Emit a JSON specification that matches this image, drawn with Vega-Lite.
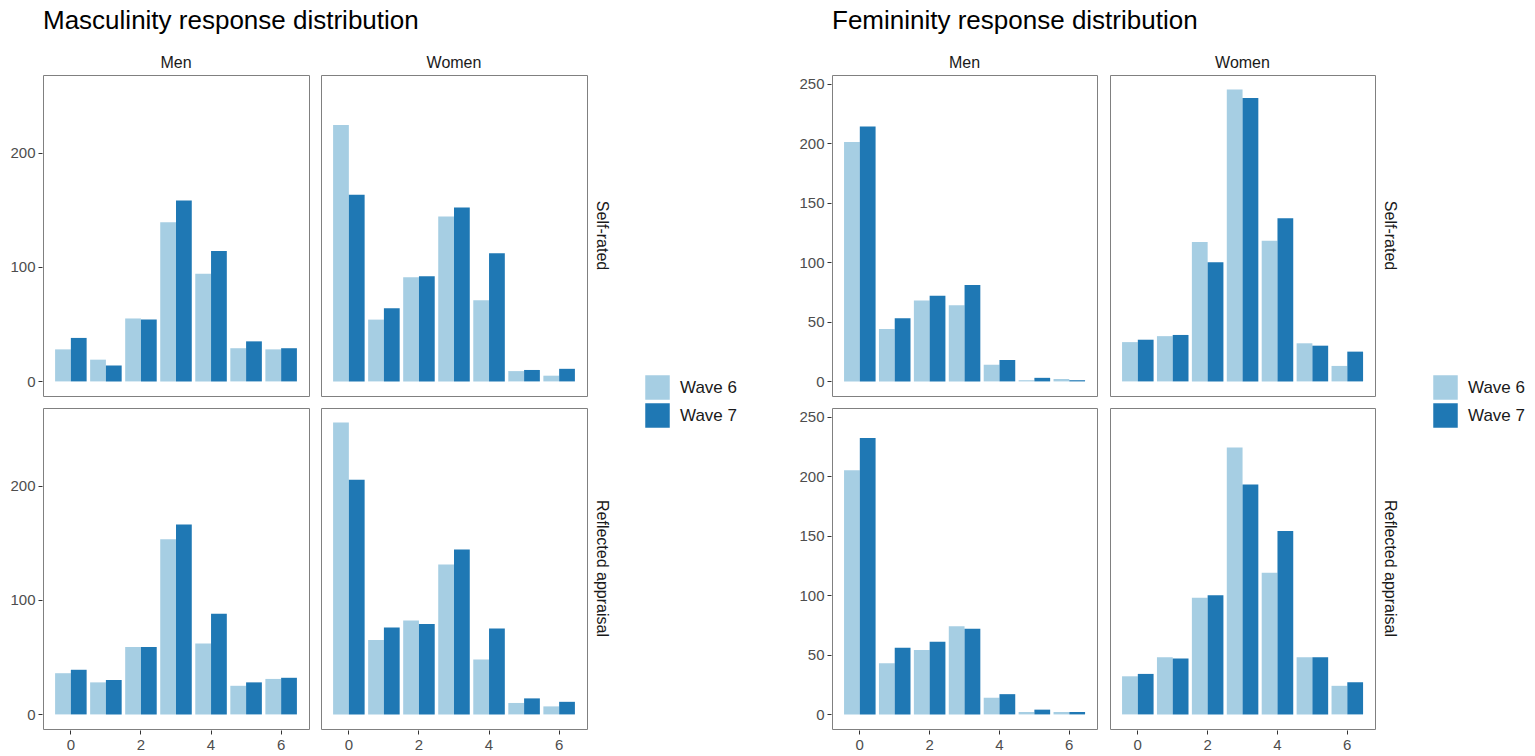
{
  "$schema": "https://vega.github.io/schema/vega-lite/v6.json",
  "background": "#ffffff",
  "padding": {"left": 9, "top": 8, "right": 5, "bottom": 5},
  "config": {
    "font": "Liberation Sans",
    "view": {"stroke": "#808080", "strokeWidth": 1},
    "axis": {
      "domain": false,
      "grid": false,
      "tickColor": "#333333",
      "tickSize": 4,
      "labelColor": "#4d4d4d",
      "labelFontSize": 15,
      "labelPadding": 3,
      "title": null
    },
    "header": {
      "labelFontSize": 16,
      "labelColor": "#1a1a1a",
      "title": null
    },
    "legend": {
      "title": null,
      "labelFontSize": 17,
      "labelColor": "#1a1a1a",
      "symbolType": "square",
      "symbolSize": 600,
      "symbolStrokeWidth": 0,
      "symbolOpacity": 1,
      "rowPadding": 3,
      "labelOffset": 10
    },
    "title": {"fontSize": 26, "fontWeight": "normal", "color": "#000000", "anchor": "start", "frame": "group", "offset": 21}
  },
  "datasets": {
    "masc": [
      {"gender": "Men", "rating": "Self-rated", "response": 0, "wave": "Wave 6", "count": 28},
      {"gender": "Men", "rating": "Self-rated", "response": 1, "wave": "Wave 6", "count": 19},
      {"gender": "Men", "rating": "Self-rated", "response": 2, "wave": "Wave 6", "count": 55},
      {"gender": "Men", "rating": "Self-rated", "response": 3, "wave": "Wave 6", "count": 139},
      {"gender": "Men", "rating": "Self-rated", "response": 4, "wave": "Wave 6", "count": 94},
      {"gender": "Men", "rating": "Self-rated", "response": 5, "wave": "Wave 6", "count": 29},
      {"gender": "Men", "rating": "Self-rated", "response": 6, "wave": "Wave 6", "count": 28},
      {"gender": "Men", "rating": "Self-rated", "response": 0, "wave": "Wave 7", "count": 38},
      {"gender": "Men", "rating": "Self-rated", "response": 1, "wave": "Wave 7", "count": 14},
      {"gender": "Men", "rating": "Self-rated", "response": 2, "wave": "Wave 7", "count": 54},
      {"gender": "Men", "rating": "Self-rated", "response": 3, "wave": "Wave 7", "count": 158},
      {"gender": "Men", "rating": "Self-rated", "response": 4, "wave": "Wave 7", "count": 114},
      {"gender": "Men", "rating": "Self-rated", "response": 5, "wave": "Wave 7", "count": 35},
      {"gender": "Men", "rating": "Self-rated", "response": 6, "wave": "Wave 7", "count": 29},
      {"gender": "Women", "rating": "Self-rated", "response": 0, "wave": "Wave 6", "count": 224},
      {"gender": "Women", "rating": "Self-rated", "response": 1, "wave": "Wave 6", "count": 54},
      {"gender": "Women", "rating": "Self-rated", "response": 2, "wave": "Wave 6", "count": 91},
      {"gender": "Women", "rating": "Self-rated", "response": 3, "wave": "Wave 6", "count": 144},
      {"gender": "Women", "rating": "Self-rated", "response": 4, "wave": "Wave 6", "count": 71},
      {"gender": "Women", "rating": "Self-rated", "response": 5, "wave": "Wave 6", "count": 9},
      {"gender": "Women", "rating": "Self-rated", "response": 6, "wave": "Wave 6", "count": 5},
      {"gender": "Women", "rating": "Self-rated", "response": 0, "wave": "Wave 7", "count": 163},
      {"gender": "Women", "rating": "Self-rated", "response": 1, "wave": "Wave 7", "count": 64},
      {"gender": "Women", "rating": "Self-rated", "response": 2, "wave": "Wave 7", "count": 92},
      {"gender": "Women", "rating": "Self-rated", "response": 3, "wave": "Wave 7", "count": 152},
      {"gender": "Women", "rating": "Self-rated", "response": 4, "wave": "Wave 7", "count": 112},
      {"gender": "Women", "rating": "Self-rated", "response": 5, "wave": "Wave 7", "count": 10},
      {"gender": "Women", "rating": "Self-rated", "response": 6, "wave": "Wave 7", "count": 11},
      {"gender": "Men", "rating": "Reflected appraisal", "response": 0, "wave": "Wave 6", "count": 36},
      {"gender": "Men", "rating": "Reflected appraisal", "response": 1, "wave": "Wave 6", "count": 28},
      {"gender": "Men", "rating": "Reflected appraisal", "response": 2, "wave": "Wave 6", "count": 59},
      {"gender": "Men", "rating": "Reflected appraisal", "response": 3, "wave": "Wave 6", "count": 153},
      {"gender": "Men", "rating": "Reflected appraisal", "response": 4, "wave": "Wave 6", "count": 62},
      {"gender": "Men", "rating": "Reflected appraisal", "response": 5, "wave": "Wave 6", "count": 25},
      {"gender": "Men", "rating": "Reflected appraisal", "response": 6, "wave": "Wave 6", "count": 31},
      {"gender": "Men", "rating": "Reflected appraisal", "response": 0, "wave": "Wave 7", "count": 39},
      {"gender": "Men", "rating": "Reflected appraisal", "response": 1, "wave": "Wave 7", "count": 30},
      {"gender": "Men", "rating": "Reflected appraisal", "response": 2, "wave": "Wave 7", "count": 59},
      {"gender": "Men", "rating": "Reflected appraisal", "response": 3, "wave": "Wave 7", "count": 166},
      {"gender": "Men", "rating": "Reflected appraisal", "response": 4, "wave": "Wave 7", "count": 88},
      {"gender": "Men", "rating": "Reflected appraisal", "response": 5, "wave": "Wave 7", "count": 28},
      {"gender": "Men", "rating": "Reflected appraisal", "response": 6, "wave": "Wave 7", "count": 32},
      {"gender": "Women", "rating": "Reflected appraisal", "response": 0, "wave": "Wave 6", "count": 255},
      {"gender": "Women", "rating": "Reflected appraisal", "response": 1, "wave": "Wave 6", "count": 65},
      {"gender": "Women", "rating": "Reflected appraisal", "response": 2, "wave": "Wave 6", "count": 82},
      {"gender": "Women", "rating": "Reflected appraisal", "response": 3, "wave": "Wave 6", "count": 131},
      {"gender": "Women", "rating": "Reflected appraisal", "response": 4, "wave": "Wave 6", "count": 48},
      {"gender": "Women", "rating": "Reflected appraisal", "response": 5, "wave": "Wave 6", "count": 10},
      {"gender": "Women", "rating": "Reflected appraisal", "response": 6, "wave": "Wave 6", "count": 7},
      {"gender": "Women", "rating": "Reflected appraisal", "response": 0, "wave": "Wave 7", "count": 205},
      {"gender": "Women", "rating": "Reflected appraisal", "response": 1, "wave": "Wave 7", "count": 76},
      {"gender": "Women", "rating": "Reflected appraisal", "response": 2, "wave": "Wave 7", "count": 79},
      {"gender": "Women", "rating": "Reflected appraisal", "response": 3, "wave": "Wave 7", "count": 144},
      {"gender": "Women", "rating": "Reflected appraisal", "response": 4, "wave": "Wave 7", "count": 75},
      {"gender": "Women", "rating": "Reflected appraisal", "response": 5, "wave": "Wave 7", "count": 14},
      {"gender": "Women", "rating": "Reflected appraisal", "response": 6, "wave": "Wave 7", "count": 11}
    ],
    "fem": [
      {"gender": "Men", "rating": "Self-rated", "response": 0, "wave": "Wave 6", "count": 201},
      {"gender": "Men", "rating": "Self-rated", "response": 1, "wave": "Wave 6", "count": 44},
      {"gender": "Men", "rating": "Self-rated", "response": 2, "wave": "Wave 6", "count": 68},
      {"gender": "Men", "rating": "Self-rated", "response": 3, "wave": "Wave 6", "count": 64},
      {"gender": "Men", "rating": "Self-rated", "response": 4, "wave": "Wave 6", "count": 14},
      {"gender": "Men", "rating": "Self-rated", "response": 5, "wave": "Wave 6", "count": 1},
      {"gender": "Men", "rating": "Self-rated", "response": 6, "wave": "Wave 6", "count": 2},
      {"gender": "Men", "rating": "Self-rated", "response": 0, "wave": "Wave 7", "count": 214},
      {"gender": "Men", "rating": "Self-rated", "response": 1, "wave": "Wave 7", "count": 53},
      {"gender": "Men", "rating": "Self-rated", "response": 2, "wave": "Wave 7", "count": 72},
      {"gender": "Men", "rating": "Self-rated", "response": 3, "wave": "Wave 7", "count": 81},
      {"gender": "Men", "rating": "Self-rated", "response": 4, "wave": "Wave 7", "count": 18},
      {"gender": "Men", "rating": "Self-rated", "response": 5, "wave": "Wave 7", "count": 3},
      {"gender": "Men", "rating": "Self-rated", "response": 6, "wave": "Wave 7", "count": 1},
      {"gender": "Women", "rating": "Self-rated", "response": 0, "wave": "Wave 6", "count": 33},
      {"gender": "Women", "rating": "Self-rated", "response": 1, "wave": "Wave 6", "count": 38},
      {"gender": "Women", "rating": "Self-rated", "response": 2, "wave": "Wave 6", "count": 117},
      {"gender": "Women", "rating": "Self-rated", "response": 3, "wave": "Wave 6", "count": 245},
      {"gender": "Women", "rating": "Self-rated", "response": 4, "wave": "Wave 6", "count": 118},
      {"gender": "Women", "rating": "Self-rated", "response": 5, "wave": "Wave 6", "count": 32},
      {"gender": "Women", "rating": "Self-rated", "response": 6, "wave": "Wave 6", "count": 13},
      {"gender": "Women", "rating": "Self-rated", "response": 0, "wave": "Wave 7", "count": 35},
      {"gender": "Women", "rating": "Self-rated", "response": 1, "wave": "Wave 7", "count": 39},
      {"gender": "Women", "rating": "Self-rated", "response": 2, "wave": "Wave 7", "count": 100},
      {"gender": "Women", "rating": "Self-rated", "response": 3, "wave": "Wave 7", "count": 238},
      {"gender": "Women", "rating": "Self-rated", "response": 4, "wave": "Wave 7", "count": 137},
      {"gender": "Women", "rating": "Self-rated", "response": 5, "wave": "Wave 7", "count": 30},
      {"gender": "Women", "rating": "Self-rated", "response": 6, "wave": "Wave 7", "count": 25},
      {"gender": "Men", "rating": "Reflected appraisal", "response": 0, "wave": "Wave 6", "count": 205},
      {"gender": "Men", "rating": "Reflected appraisal", "response": 1, "wave": "Wave 6", "count": 43},
      {"gender": "Men", "rating": "Reflected appraisal", "response": 2, "wave": "Wave 6", "count": 54},
      {"gender": "Men", "rating": "Reflected appraisal", "response": 3, "wave": "Wave 6", "count": 74},
      {"gender": "Men", "rating": "Reflected appraisal", "response": 4, "wave": "Wave 6", "count": 14},
      {"gender": "Men", "rating": "Reflected appraisal", "response": 5, "wave": "Wave 6", "count": 2},
      {"gender": "Men", "rating": "Reflected appraisal", "response": 6, "wave": "Wave 6", "count": 2},
      {"gender": "Men", "rating": "Reflected appraisal", "response": 0, "wave": "Wave 7", "count": 232},
      {"gender": "Men", "rating": "Reflected appraisal", "response": 1, "wave": "Wave 7", "count": 56},
      {"gender": "Men", "rating": "Reflected appraisal", "response": 2, "wave": "Wave 7", "count": 61},
      {"gender": "Men", "rating": "Reflected appraisal", "response": 3, "wave": "Wave 7", "count": 72},
      {"gender": "Men", "rating": "Reflected appraisal", "response": 4, "wave": "Wave 7", "count": 17},
      {"gender": "Men", "rating": "Reflected appraisal", "response": 5, "wave": "Wave 7", "count": 4},
      {"gender": "Men", "rating": "Reflected appraisal", "response": 6, "wave": "Wave 7", "count": 2},
      {"gender": "Women", "rating": "Reflected appraisal", "response": 0, "wave": "Wave 6", "count": 32},
      {"gender": "Women", "rating": "Reflected appraisal", "response": 1, "wave": "Wave 6", "count": 48},
      {"gender": "Women", "rating": "Reflected appraisal", "response": 2, "wave": "Wave 6", "count": 98},
      {"gender": "Women", "rating": "Reflected appraisal", "response": 3, "wave": "Wave 6", "count": 224},
      {"gender": "Women", "rating": "Reflected appraisal", "response": 4, "wave": "Wave 6", "count": 119},
      {"gender": "Women", "rating": "Reflected appraisal", "response": 5, "wave": "Wave 6", "count": 48},
      {"gender": "Women", "rating": "Reflected appraisal", "response": 6, "wave": "Wave 6", "count": 24},
      {"gender": "Women", "rating": "Reflected appraisal", "response": 0, "wave": "Wave 7", "count": 34},
      {"gender": "Women", "rating": "Reflected appraisal", "response": 1, "wave": "Wave 7", "count": 47},
      {"gender": "Women", "rating": "Reflected appraisal", "response": 2, "wave": "Wave 7", "count": 100},
      {"gender": "Women", "rating": "Reflected appraisal", "response": 3, "wave": "Wave 7", "count": 193},
      {"gender": "Women", "rating": "Reflected appraisal", "response": 4, "wave": "Wave 7", "count": 154},
      {"gender": "Women", "rating": "Reflected appraisal", "response": 5, "wave": "Wave 7", "count": 48},
      {"gender": "Women", "rating": "Reflected appraisal", "response": 6, "wave": "Wave 7", "count": 27}
    ]
  },
  "resolve": {"scale": {"color": "independent"}},
  "spacing": 60,
  "hconcat": [
    {
      "title": {"text": "Masculinity response distribution"},
      "data": {"name": "masc"},
      "facet": {
        "column": {"field": "gender", "type": "nominal", "header": {"labelPadding": 3, "labelFontSize": 16}},
        "row": {
          "field": "rating",
          "type": "nominal",
          "sort": ["Self-rated", "Reflected appraisal"],
          "header": {"labelOrient": "right", "labelAngle": 90, "labelPadding": 6, "labelFontSize": 16}
        }
      },
      "spacing": {"row": 10, "column": 10},
      "spec": {
        "width": 266,
        "height": 321,
        "mark": {"type": "bar"},
        "encoding": {
          "x": {
            "field": "response",
            "type": "ordinal",
            "scale": {"paddingInner": 0.1, "paddingOuter": 0.345},
            "axis": {"values": [0, 2, 4, 6], "labelAngle": 0}
          },
          "xOffset": {"field": "wave", "type": "nominal"},
          "y": {
            "field": "count",
            "type": "quantitative",
            "scale": {"domain": [-12.75, 267.75], "nice": false, "zero": false},
            "axis": {"values": [0, 100, 200]}
          },
          "color": {
            "field": "wave",
            "type": "nominal",
            "scale": {"domain": ["Wave 6", "Wave 7"], "range": ["#a6cee3", "#1f78b4"]},
            "legend": {"orient": "none", "legendX": 602, "legendY": 300}
          }
        }
      }
    },
    {
      "title": {"text": "Femininity response distribution"},
      "data": {"name": "fem"},
      "facet": {
        "column": {"field": "gender", "type": "nominal", "header": {"labelPadding": 3, "labelFontSize": 16}},
        "row": {
          "field": "rating",
          "type": "nominal",
          "sort": ["Self-rated", "Reflected appraisal"],
          "header": {"labelOrient": "right", "labelAngle": 90, "labelPadding": 6, "labelFontSize": 16}
        }
      },
      "spacing": {"row": 10, "column": 11},
      "spec": {
        "width": 265,
        "height": 321,
        "mark": {"type": "bar"},
        "encoding": {
          "x": {
            "field": "response",
            "type": "ordinal",
            "scale": {"paddingInner": 0.1, "paddingOuter": 0.345},
            "axis": {"values": [0, 2, 4, 6], "labelAngle": 0}
          },
          "xOffset": {"field": "wave", "type": "nominal"},
          "y": {
            "field": "count",
            "type": "quantitative",
            "scale": {"domain": [-12.25, 257.25], "nice": false, "zero": false},
            "axis": {"values": [0, 50, 100, 150, 200, 250]}
          },
          "color": {
            "field": "wave",
            "type": "nominal",
            "scale": {"domain": ["Wave 6", "Wave 7"], "range": ["#a6cee3", "#1f78b4"]},
            "legend": {"orient": "none", "legendX": 601, "legendY": 300}
          }
        }
      }
    }
  ]
}
